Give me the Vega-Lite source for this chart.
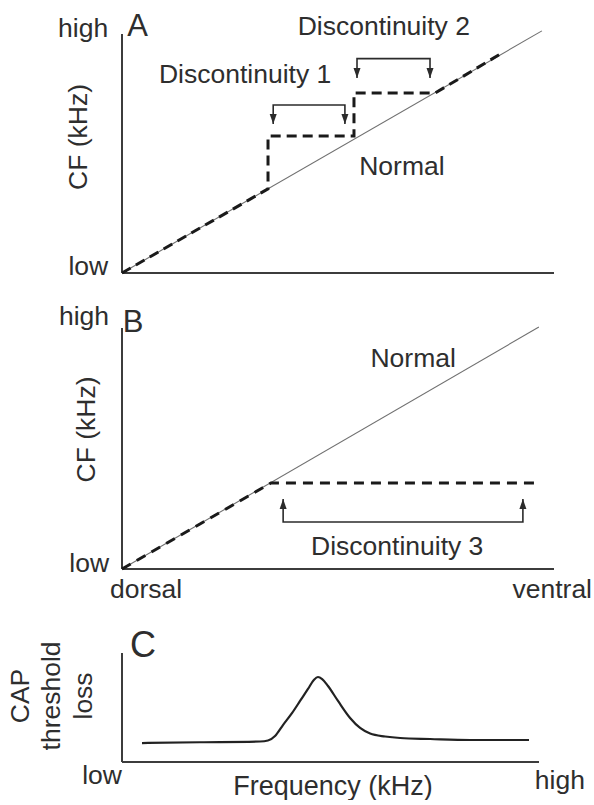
{
  "$schema": "https://vega.github.io/schema/vega-lite/v6.json",
  "background": "white",
  "padding": {"left": 8, "top": 10, "right": 0, "bottom": 0},
  "bounds": "flush",
  "spacing": 55,
  "config": {
    "view": {"stroke": null},
    "font": "Liberation Sans",
    "text": {"font": "Liberation Sans", "color": "#2e2e2e", "fontSize": 26.5, "baseline": "middle"}
  },
  "vconcat": [
    {
      "width": 432,
      "height": 239,
      "encoding": {
        "x": {"field": "x", "type": "quantitative", "scale": {"domain": [0, 1], "nice": false, "zero": false}, "axis": null},
        "y": {"field": "y", "type": "quantitative", "scale": {"domain": [0, 1], "nice": false, "zero": false}, "axis": null}
      },
      "layer": [
        {
          "data": {"values": [{"x": 0, "y": 0, "x2": 1, "y2": 0}, {"x": 0, "y": 0, "x2": 0, "y2": 1}]},
          "mark": {"type": "rule", "stroke": "#3c3c3c", "strokeWidth": 2},
          "encoding": {"x2": {"field": "x2"}, "y2": {"field": "y2"}}
        },
        {
          "data": {"values": [{"x": 0, "y": 0}, {"x": 0.972, "y": 1.013}]},
          "mark": {"type": "line", "stroke": "#707070", "strokeWidth": 1.1},
          "encoding": {}
        },
        {
          "data": {"values": [
            {"i": 0, "x": 0, "y": 0},
            {"i": 1, "x": 0.338, "y": 0.352},
            {"i": 2, "x": 0.338, "y": 0.573},
            {"i": 3, "x": 0.537, "y": 0.573},
            {"i": 4, "x": 0.537, "y": 0.753},
            {"i": 5, "x": 0.725, "y": 0.753},
            {"i": 6, "x": 0.88, "y": 0.921}
          ]},
          "mark": {"type": "line", "stroke": "#1a1a1a", "strokeWidth": 3, "strokeDash": [10, 6]},
          "encoding": {"order": {"field": "i", "type": "quantitative"}}
        },
        {
          "data": {"values": [
            {"g": "d1", "i": 0, "x": 0.35, "y": 0.623},
            {"g": "d1", "i": 1, "x": 0.35, "y": 0.703},
            {"g": "d1", "i": 2, "x": 0.516, "y": 0.703},
            {"g": "d1", "i": 3, "x": 0.516, "y": 0.623},
            {"g": "d2", "i": 0, "x": 0.544, "y": 0.816},
            {"g": "d2", "i": 1, "x": 0.544, "y": 0.897},
            {"g": "d2", "i": 2, "x": 0.713, "y": 0.897},
            {"g": "d2", "i": 3, "x": 0.713, "y": 0.816}
          ]},
          "mark": {"type": "line", "stroke": "#2b2b2b", "strokeWidth": 1.6},
          "encoding": {"detail": {"field": "g"}, "order": {"field": "i", "type": "quantitative"}}
        },
        {
          "data": {"values": [{"x": 0.35, "y": 0.623}, {"x": 0.516, "y": 0.623}, {"x": 0.544, "y": 0.816}, {"x": 0.713, "y": 0.816}]},
          "mark": {"type": "point", "shape": "M0,0L-0.7,-2L0.7,-2Z", "size": 100, "filled": true, "color": "#2b2b2b", "opacity": 1, "strokeWidth": 0}
        },
        {
          "data": {"values": [
            {"x": 0.285, "y": 0.828, "label": "Discontinuity 1"},
            {"x": 0.606, "y": 1.029, "label": "Discontinuity 2"},
            {"x": 0.648, "y": 0.444, "label": "Normal"}
          ]},
          "mark": {"type": "text", "align": "center"},
          "encoding": {"text": {"field": "label"}}
        },
        {
          "data": {"values": [{"x": 0.012, "y": 1.03, "label": "A"}]},
          "mark": {"type": "text", "align": "left", "fontSize": 31},
          "encoding": {"text": {"field": "label"}}
        },
        {
          "data": {"values": [{"x": -0.032, "y": 1.019, "label": "high"}, {"x": -0.032, "y": 0.025, "label": "low"}]},
          "mark": {"type": "text", "align": "right"},
          "encoding": {"text": {"field": "label"}}
        },
        {
          "data": {"values": [{"x": -0.1, "y": 0.569, "label": "CF (kHz)"}]},
          "mark": {"type": "text", "align": "center", "angle": 270},
          "encoding": {"text": {"field": "label"}}
        }
      ]
    },
    {
      "width": 432,
      "height": 241,
      "encoding": {
        "x": {"field": "x", "type": "quantitative", "scale": {"domain": [0, 1], "nice": false, "zero": false}, "axis": null},
        "y": {"field": "y", "type": "quantitative", "scale": {"domain": [0, 1], "nice": false, "zero": false}, "axis": null}
      },
      "layer": [
        {
          "data": {"values": [{"x": 0, "y": 0, "x2": 1, "y2": 0}, {"x": 0, "y": 0, "x2": 0, "y2": 1}]},
          "mark": {"type": "rule", "stroke": "#3c3c3c", "strokeWidth": 2},
          "encoding": {"x2": {"field": "x2"}, "y2": {"field": "y2"}}
        },
        {
          "data": {"values": [{"x": 0, "y": 0}, {"x": 0.965, "y": 1.004}]},
          "mark": {"type": "line", "stroke": "#707070", "strokeWidth": 1.1},
          "encoding": {}
        },
        {
          "data": {"values": [
            {"i": 0, "x": 0, "y": 0},
            {"i": 1, "x": 0.345, "y": 0.357},
            {"i": 2, "x": 0.963, "y": 0.357}
          ]},
          "mark": {"type": "line", "stroke": "#1a1a1a", "strokeWidth": 3, "strokeDash": [10, 7]},
          "encoding": {"order": {"field": "i", "type": "quantitative"}}
        },
        {
          "data": {"values": [
            {"i": 0, "x": 0.373, "y": 0.29},
            {"i": 1, "x": 0.373, "y": 0.195},
            {"i": 2, "x": 0.928, "y": 0.195},
            {"i": 3, "x": 0.928, "y": 0.29}
          ]},
          "mark": {"type": "line", "stroke": "#2b2b2b", "strokeWidth": 1.6},
          "encoding": {"order": {"field": "i", "type": "quantitative"}}
        },
        {
          "data": {"values": [{"x": 0.373, "y": 0.29}, {"x": 0.928, "y": 0.29}]},
          "mark": {"type": "point", "shape": "M0,0L-0.7,2L0.7,2Z", "size": 100, "filled": true, "color": "#2b2b2b", "opacity": 1, "strokeWidth": 0}
        },
        {
          "data": {"values": [
            {"x": 0.674, "y": 0.873, "label": "Normal"},
            {"x": 0.637, "y": 0.091, "label": "Discontinuity 3"}
          ]},
          "mark": {"type": "text", "align": "center"},
          "encoding": {"text": {"field": "label"}}
        },
        {
          "data": {"values": [{"x": 0.002, "y": 1.021, "label": "B"}]},
          "mark": {"type": "text", "align": "left", "fontSize": 31},
          "encoding": {"text": {"field": "label"}}
        },
        {
          "data": {"values": [{"x": -0.03, "y": 1.044, "label": "high"}, {"x": -0.03, "y": 0.021, "label": "low"}]},
          "mark": {"type": "text", "align": "right"},
          "encoding": {"text": {"field": "label"}}
        },
        {
          "data": {"values": [{"x": -0.028, "y": -0.087, "label": "dorsal"}]},
          "mark": {"type": "text", "align": "left"},
          "encoding": {"text": {"field": "label"}}
        },
        {
          "data": {"values": [{"x": 1.088, "y": -0.087, "label": "ventral"}]},
          "mark": {"type": "text", "align": "right"},
          "encoding": {"text": {"field": "label"}}
        },
        {
          "data": {"values": [{"x": -0.082, "y": 0.579, "label": "CF (kHz)"}]},
          "mark": {"type": "text", "align": "center", "angle": 270},
          "encoding": {"text": {"field": "label"}}
        }
      ]
    },
    {
      "width": 417,
      "height": 138,
      "encoding": {
        "x": {"field": "x", "type": "quantitative", "scale": {"domain": [0, 1], "nice": false, "zero": false}, "axis": null},
        "y": {"field": "y", "type": "quantitative", "scale": {"domain": [0, 1.266], "nice": false, "zero": false}, "axis": null}
      },
      "layer": [
        {
          "data": {"values": [{"x": 0, "y": 0, "x2": 1, "y2": 0}, {"x": 0, "y": 0, "x2": 0, "y2": 1}]},
          "mark": {"type": "rule", "stroke": "#3c3c3c", "strokeWidth": 2},
          "encoding": {"x2": {"field": "x2"}, "y2": {"field": "y2"}}
        },
        {
          "data": {"values": [
            {"x": 0.048, "y": 0.174},
            {"x": 0.187, "y": 0.181},
            {"x": 0.331, "y": 0.188},
            {"x": 0.35, "y": 0.197},
            {"x": 0.367, "y": 0.239},
            {"x": 0.386, "y": 0.339},
            {"x": 0.408, "y": 0.45},
            {"x": 0.427, "y": 0.56},
            {"x": 0.446, "y": 0.67},
            {"x": 0.46, "y": 0.752},
            {"x": 0.47, "y": 0.78},
            {"x": 0.48, "y": 0.761},
            {"x": 0.494, "y": 0.697},
            {"x": 0.518, "y": 0.56},
            {"x": 0.547, "y": 0.404},
            {"x": 0.571, "y": 0.312},
            {"x": 0.595, "y": 0.261},
            {"x": 0.631, "y": 0.234},
            {"x": 0.667, "y": 0.22},
            {"x": 0.739, "y": 0.211},
            {"x": 0.835, "y": 0.202},
            {"x": 0.976, "y": 0.202}
          ]},
          "mark": {"type": "line", "stroke": "#222222", "strokeWidth": 2.2, "interpolate": "monotone"},
          "encoding": {}
        },
        {
          "data": {"values": [{"x": 0.019, "y": 1.06, "label": "C"}]},
          "mark": {"type": "text", "align": "left", "fontSize": 36},
          "encoding": {"text": {"field": "label"}}
        },
        {
          "data": {"values": [{"x": 0, "y": -0.133, "label": "low"}]},
          "mark": {"type": "text", "align": "right"},
          "encoding": {"text": {"field": "label"}}
        },
        {
          "data": {"values": [{"x": 0.99, "y": -0.174, "label": "high"}]},
          "mark": {"type": "text", "align": "left"},
          "encoding": {"text": {"field": "label"}}
        },
        {
          "data": {"values": [{"x": 0.506, "y": -0.229, "label": "Frequency (kHz)"}]},
          "mark": {"type": "text", "align": "center", "fontSize": 27},
          "encoding": {"text": {"field": "label"}}
        },
        {
          "data": {"values": [
            {"x": -0.242, "y": 0.606, "label": "CAP"},
            {"x": -0.167, "y": 0.606, "label": "threshold"},
            {"x": -0.091, "y": 0.606, "label": "loss"}
          ]},
          "mark": {"type": "text", "align": "center", "angle": 270},
          "encoding": {"text": {"field": "label"}}
        }
      ]
    }
  ]
}
